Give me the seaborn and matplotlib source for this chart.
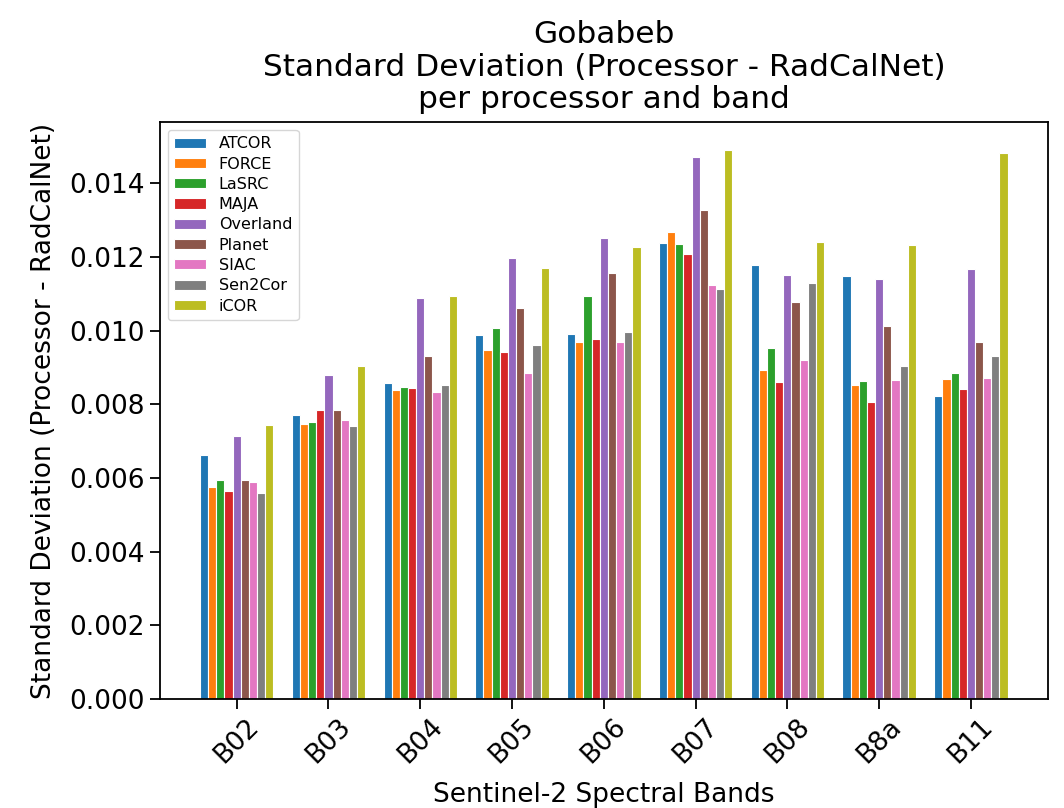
import matplotlib
matplotlib.use("Agg")
import matplotlib.pyplot as plt
import pandas as pd
import seaborn as sns

bands = ["B02", "B03", "B04", "B05", "B06", "B07", "B08", "B8a", "B11"]
processors = ["ATCOR", "FORCE", "LaSRC", "MAJA", "Overland", "Planet", "SIAC", "Sen2Cor", "iCOR"]

# standard deviation of (processor - RadCalNet) per band, one list per processor
atcor    = [0.00661, 0.00770, 0.00857, 0.00987, 0.00991, 0.01238, 0.01179, 0.01148, 0.00823]
force    = [0.00576, 0.00746, 0.00839, 0.00946, 0.00969, 0.01268, 0.00892, 0.00851, 0.00869]
lasrc    = [0.00594, 0.00751, 0.00846, 0.01007, 0.01094, 0.01235, 0.00953, 0.00864, 0.00884]
maja     = [0.00565, 0.00784, 0.00845, 0.00942, 0.00978, 0.01209, 0.00859, 0.00807, 0.00842]
overland = [0.00715, 0.00878, 0.01088, 0.01196, 0.01252, 0.01472, 0.01152, 0.01141, 0.01166]
planet   = [0.00595, 0.00785, 0.00930, 0.01061, 0.01155, 0.01328, 0.01077, 0.01011, 0.00970]
siac     = [0.00590, 0.00756, 0.00833, 0.00884, 0.00970, 0.01123, 0.00921, 0.00866, 0.00871]
sen2cor  = [0.00558, 0.00742, 0.00851, 0.00962, 0.00996, 0.01113, 0.01129, 0.00904, 0.00930]
icor     = [0.00744, 0.00903, 0.01093, 0.01170, 0.01227, 0.01490, 0.01239, 0.01233, 0.01483]

series = [atcor, force, lasrc, maja, overland, planet, siac, sen2cor, icor]

rows = []
for proc, vals in zip(processors, series):
    for band, v in zip(bands, vals):
        rows.append({"Band": band, "Processor": proc, "Std": v})
df = pd.DataFrame(rows)

colors = plt.get_cmap("tab10").colors[:9]

fig = plt.figure(figsize=(10.64, 8.08), dpi=100)
ax = fig.add_axes([0.150, 0.135, 0.835, 0.714])

sns.barplot(data=df, x="Band", y="Std", hue="Processor", order=bands,
            hue_order=processors, palette=list(colors), width=0.8,
            edgecolor="white", linewidth=0.8, saturation=1, ax=ax)

ax.set_xlim(-0.84, 8.84)
ax.set_ylim(0, 0.01566)
ax.set_yticks([0.000, 0.002, 0.004, 0.006, 0.008, 0.010, 0.012, 0.014])
ax.set_yticklabels([f"{t:.3f}" for t in ax.get_yticks()])

ax.tick_params(axis="both", labelsize=19, length=7, width=1.3)
plt.setp(ax.get_xticklabels(), rotation=45)
for s in ax.spines.values():
    s.set_linewidth(1.3)

ax.set_xlabel("Sentinel-2 Spectral Bands", fontsize=19, labelpad=10)
ax.set_ylabel("Standard Deviation (Processor - RadCalNet)", fontsize=19, labelpad=9)
ax.set_title("Gobabeb\nStandard Deviation (Processor - RadCalNet)\nper processor and band",
             fontsize=22.5, pad=10, linespacing=1.15)

handles, labels = ax.get_legend_handles_labels()
ax.legend(handles, labels, loc="upper left", fontsize=11.5, framealpha=0.8,
          labelspacing=0.33, handleheight=0.6)

fig.savefig("out.png", dpi=100)
